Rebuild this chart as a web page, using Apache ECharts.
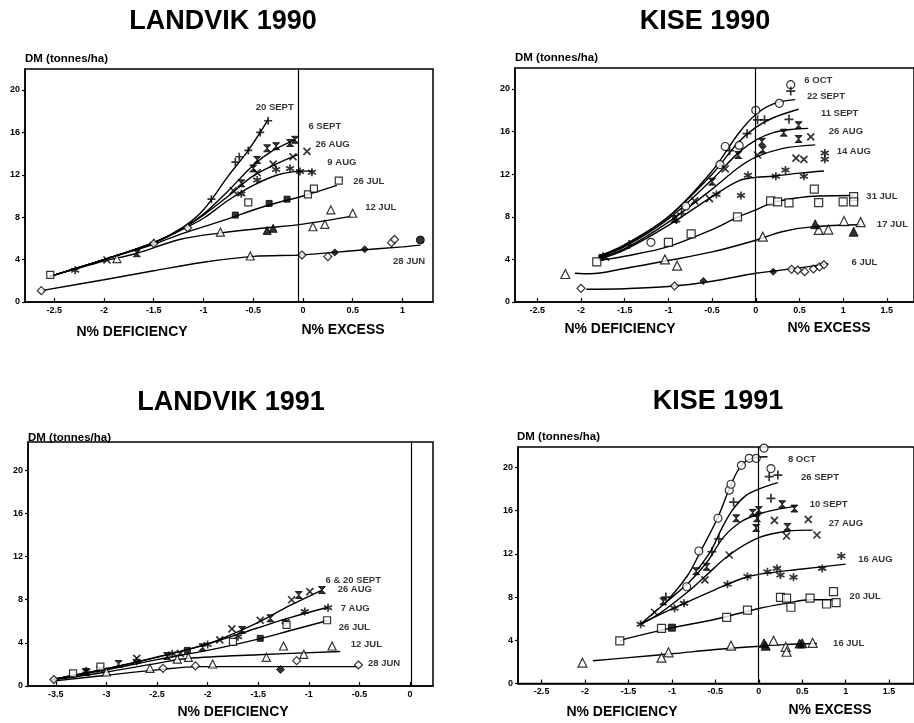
<!DOCTYPE html>
<html>
<head>
<meta charset="utf-8">
<script src="https://cdn.jsdelivr.net/npm/echarts@6.0.0/dist/echarts.min.js"></script>
<style>html,body{margin:0;padding:0;background:#fff}#c{width:914px;height:723px}</style>
</head>
<body>
<div id="c"></div>
<script>
// ---------------- DATA ----------------
const yTicks = [0, 4, 8, 12, 16, 20];
const xTicksL90 = [-2.5, -2, -1.5, -1, -0.5, 0, 0.5, 1];
const xTicksKise = [-2.5, -2, -1.5, -1, -0.5, 0, 0.5, 1, 1.5];
const xTicksL91 = [-3.5, -3, -2.5, -2, -1.5, -1, -0.5, 0];

// LANDVIK 1990
const L90_dates = ['20 SEPT', '6 SEPT', '26 AUG', '9 AUG', '26 JUL', '12 JUL', '28 JUN'];
const L90_sep20_pts = [[-1.5,5.6],[-0.92,9.7],[-0.68,13.2],[-0.64,13.7],[-0.55,14.3],[-0.43,16.0],[-0.35,17.1]];
const L90_sep20_fit = [[-2.55,2.4],[-2.0,4.0],[-1.5,5.6],[-1.2,7.1],[-1.0,8.7],[-0.75,11.9],[-0.55,14.3],[-0.35,17.2]];
const L90_sep6_pts = [[-1.67,4.6],[-0.62,11.2],[-0.5,12.6],[-0.46,13.4],[-0.36,14.5],[-0.27,14.7],[-0.13,15.0],[-0.08,15.3]];
const L90_sep6_fit = [[-2.55,2.4],[-2.0,4.0],[-1.5,5.6],[-1.2,7.0],[-1.0,8.3],[-0.75,10.5],[-0.5,12.9],[-0.3,14.3],[-0.08,15.3]];
const L90_aug26_pts = [[-1.97,3.96],[-0.7,10.5],[-0.46,12.2],[-0.3,13.0],[-0.1,13.7],[0.04,14.2]];
const L90_aug26_fit = [[-2.55,2.4],[-2.0,4.0],[-1.5,5.6],[-1.2,7.0],[-1.0,8.2],[-0.75,10.0],[-0.5,11.9],[-0.25,13.1],[-0.05,13.9]];
const L90_aug9_pts = [[-2.29,3.0],[-0.62,10.2],[-0.46,11.5],[-0.27,12.5],[-0.13,12.6],[-0.03,12.3],[0.09,12.25]];
const L90_aug9_fit = [[-2.55,2.4],[-2.0,4.0],[-1.5,5.6],[-1.2,6.9],[-1.0,7.9],[-0.75,9.6],[-0.5,11.0],[-0.25,12.0],[0.0,12.35],[0.1,12.35]];
const L90_jul26_open = [[-2.54,2.55],[-0.55,9.4],[0.05,10.15],[0.11,10.7],[0.36,11.45]];
const L90_jul26_fill = [[-0.68,8.2],[-0.34,9.3],[-0.16,9.7]];
const L90_jul26_fit = [[-2.55,2.4],[-2.0,4.0],[-1.5,5.45],[-1.2,6.5],[-0.83,7.6],[-0.36,9.1],[0.0,10.0],[0.34,11.0]];
const L90_jul12_open = [[-1.87,4.1],[-0.83,6.6],[-0.53,4.34],[0.1,7.1],[0.22,7.33],[0.28,8.7],[0.5,8.37]];
const L90_jul12_fill = [[-0.36,6.75],[-0.3,6.95]];
const L90_jul12_fit = [[-2.55,2.4],[-2.0,3.85],[-1.67,4.6],[-1.24,5.9],[-0.84,6.5],[-0.36,7.0],[0.0,7.35],[0.5,8.1]];
const L90_jun28_open = [[-2.63,1.07],[-1.5,5.5],[-1.16,7.0],[-0.01,4.43],[0.25,4.28],[0.89,5.6],[0.92,5.9]];
const L90_jun28_fill = [[0.32,4.68],[0.62,4.97]];
const L90_jun28_dot = [[1.18,5.85]];
const L90_jun28_fit = [[-2.63,1.07],[-2.0,2.1],[-1.5,2.95],[-1.0,3.75],[-0.5,4.3],[0.0,4.45],[0.5,4.84],[1.0,5.2],[1.18,5.37]];

// KISE 1990
const K90_dates = ['6 OCT', '22 SEPT', '11 SEPT', '26 AUG', '14 AUG', '31 JUL', '17 JUL', '6 JUL'];
const K90_oct6_pts = [[-1.2,5.6],[-0.8,9.0],[-0.41,12.9],[-0.35,14.6],[-0.19,14.7],[0.0,18.0],[0.27,18.65],[0.4,20.4]];
const K90_oct6_fit = [[-1.8,4.3],[-1.5,5.4],[-1.0,8.0],[-0.5,12.3],[-0.2,15.8],[0.0,17.6],[0.2,18.6],[0.45,19.0]];
const K90_sep22_pts = [[-1.45,5.4],[-0.85,8.3],[-0.3,14.2],[-0.1,15.8],[0.02,17.1],[0.1,17.1],[0.38,17.15],[0.4,19.8]];
const K90_sep22_fit = [[-1.8,4.3],[-1.5,5.3],[-1.0,8.0],[-0.5,12.0],[-0.2,15.0],[0.0,16.4],[0.2,17.3],[0.49,18.1]];
const K90_sep11_pts = [[-0.93,7.8],[-0.5,11.3],[-0.2,13.8],[0.07,15.05],[0.08,14.3],[0.32,15.9],[0.49,16.6],[0.49,15.3]];
const K90_sep11_fit = [[-1.8,4.2],[-1.5,5.2],[-1.0,7.8],[-0.5,11.5],[-0.2,14.0],[0.0,15.2],[0.2,15.9],[0.4,16.2],[0.6,16.3]];
const K90_aug26_pts = [[-1.72,4.2],[-0.7,9.5],[-0.53,9.7],[-0.35,12.5],[0.02,13.8],[0.46,13.5],[0.55,13.4],[0.63,15.5]];
const K90_aug26_fit = [[-1.8,4.1],[-1.5,5.0],[-1.0,7.5],[-0.5,10.6],[-0.2,12.6],[0.0,13.6],[0.3,14.4],[0.68,14.75]];
const K90_aug14_pts = [[-1.75,4.3],[-0.91,7.7],[-0.45,10.1],[-0.17,10.0],[-0.09,11.9],[0.23,11.8],[0.34,12.4],[0.55,11.8],[0.79,13.4],[0.79,14.0]];
const K90_aug14_fit = [[-1.8,4.0],[-1.5,4.9],[-1.0,7.2],[-0.5,9.9],[-0.19,11.4],[0.0,11.7],[0.19,11.8],[0.5,12.1],[0.78,12.3]];
const K90_jul31_pts = [[-1.82,3.76],[-1.0,5.6],[-0.74,6.4],[-0.21,8.0],[0.17,9.5],[0.25,9.4],[0.38,9.3],[0.67,10.6],[0.72,9.33],[1.0,9.4],[1.12,9.9],[1.12,9.4]];
const K90_jul31_fit = [[-1.8,3.9],[-1.5,4.3],[-1.0,5.2],[-0.5,6.8],[-0.2,8.0],[0.0,8.64],[0.2,9.35],[0.5,9.8],[0.72,9.95],[1.12,10.0]];
const K90_jul17_open = [[-2.18,2.63],[-1.04,4.0],[-0.9,3.41],[0.08,6.13],[0.72,6.77],[0.83,6.8],[1.01,7.6],[1.2,7.5]];
const K90_jul17_fill = [[0.68,7.3],[1.12,6.6]];
const K90_jul17_fit = [[-2.07,2.7],[-1.9,2.65],[-1.5,3.15],[-1.0,3.9],[-0.5,4.7],[0.0,5.8],[0.3,6.6],[0.64,7.05],[1.2,7.25]];
const K90_jul6_open = [[-2.0,1.28],[-0.93,1.5],[0.41,3.07],[0.48,3.0],[0.56,2.85],[0.66,3.1],[0.73,3.3],[0.78,3.5]];
const K90_jul6_fill = [[-0.6,1.97],[0.2,2.85]];
const K90_jul6_fit = [[-1.94,1.2],[-1.5,1.25],[-1.0,1.45],[-0.5,1.95],[0.0,2.7],[0.5,3.2],[0.83,3.6]];

// LANDVIK 1991
const L91_dates = ['6 & 20 SEPT', '26 AUG', '7 AUG', '26 JUL', '12 JUL', '28 JUN'];
const L91_sep_pts = [[-0.87,8.9],[-1.1,8.44],[-1.38,6.28],[-1.66,5.2],[-2.05,3.59],[-2.4,2.78],[-2.88,2.04],[-3.2,1.3]];
const L91_aug26_pts = [[-0.99,8.75],[-1.17,8.0],[-1.48,6.1],[-1.76,5.3],[-1.88,4.27],[-2.27,3.03],[-2.7,2.57],[-3.06,1.55]];
const L91_top_fit = [[-3.54,0.6],[-3.0,1.6],[-2.5,2.7],[-2.0,3.9],[-1.5,5.9],[-1.2,7.4],[-0.87,8.9]];
const L91_aug7_pts = [[-3.2,1.4],[-2.7,2.3],[-2.35,3.0],[-2.0,3.85],[-1.7,4.57],[-1.23,5.97],[-1.04,6.9],[-0.81,7.25]];
const L91_aug7_fit = [[-3.54,0.6],[-3.0,1.6],[-2.5,2.65],[-2.0,3.9],[-1.5,5.4],[-1.2,6.3],[-0.81,7.3]];
const L91_jul26_open = [[-3.33,1.18],[-3.06,1.8],[-1.75,4.1],[-1.22,5.66],[-0.82,6.1]];
const L91_jul26_fill = [[-2.2,3.3],[-1.48,4.42]];
const L91_jul26_fit = [[-3.54,0.6],[-3.0,1.5],[-2.5,2.45],[-2.0,3.3],[-1.5,4.35],[-1.2,5.1],[-0.82,6.05]];
const L91_jul12_pts = [[-3.0,1.3],[-2.57,1.64],[-2.3,2.5],[-2.19,2.66],[-1.95,2.04],[-1.42,2.66],[-1.25,3.71],[-1.05,2.94],[-0.77,3.71]];
const L91_jul12_fit = [[-3.53,0.55],[-3.0,1.3],[-2.5,2.1],[-2.2,2.55],[-1.5,2.9],[-0.69,3.2]];
const L91_jun28_open = [[-3.52,0.6],[-2.44,1.64],[-2.12,1.86],[-1.12,2.35],[-0.51,1.95]];
const L91_jun28_fill = [[-1.28,1.54]];
const L91_jun28_fit = [[-3.53,0.45],[-3.0,1.0],[-2.5,1.5],[-2.08,1.8],[-1.5,1.8],[-0.51,1.8]];

// KISE 1991
const K91_dates = ['8 OCT', '26 SEPT', '10 SEPT', '27 AUG', '16 AUG', '20 JUL', '16 JUL'];
const K91_oct8_pts = [[-0.83,8.96],[-0.69,12.27],[-0.47,15.3],[-0.34,17.9],[-0.32,18.45],[-0.2,20.2],[-0.11,20.85],[-0.03,20.85],[0.06,21.8],[0.14,19.9]];
const K91_oct8_fit = [[-1.05,7.7],[-0.82,10.0],[-0.66,12.4],[-0.47,15.4],[-0.32,18.4],[-0.2,20.2],[-0.05,20.9],[0.1,21.0]];
const K91_sep26_pts = [[-1.07,8.0],[-0.54,12.2],[-0.46,13.4],[-0.29,16.8],[0.12,19.15],[0.22,19.3],[0.14,17.15]];
const K91_sep26_fit = [[-0.7,10.6],[-0.55,12.3],[-0.43,14.3],[-0.3,16.1],[-0.15,17.4],[0.0,18.0],[0.22,18.6]];
const K91_sep10_pts = [[-1.1,7.6],[-0.72,10.4],[-0.6,10.8],[-0.26,15.3],[-0.07,15.8],[-0.02,15.3],[0.0,16.06],[-0.03,14.4],[0.27,16.6],[0.33,14.5],[0.41,16.2]];
const K91_sep10_fit = [[-1.36,5.5],[-1.1,7.3],[-0.8,9.4],[-0.6,11.2],[-0.4,13.6],[-0.2,15.0],[0.0,15.7],[0.2,16.1],[0.41,16.4]];
const K91_aug27_pts = [[-1.2,6.6],[-0.62,9.6],[-0.34,11.9],[0.18,15.1],[0.32,13.66],[0.57,15.2],[0.67,13.75]];
const K91_aug27_fit = [[-1.36,5.5],[-1.14,6.5],[-0.8,8.6],[-0.62,9.9],[-0.34,11.9],[0.0,13.5],[0.33,14.1],[0.62,14.2]];
const K91_aug16_pts = [[-1.36,5.48],[-0.97,6.96],[-0.86,7.42],[-0.36,9.2],[-0.13,9.9],[0.1,10.35],[0.21,10.66],[0.25,10.05],[0.4,9.83],[0.73,10.66],[0.95,11.8]];
const K91_aug16_fit = [[-1.36,5.5],[-1.0,6.9],[-0.5,8.7],[-0.2,9.7],[0.0,10.1],[0.5,10.6],[1.0,11.05]];
const K91_jul20_open = [[-1.6,3.94],[-1.12,5.1],[-0.37,6.13],[-0.13,6.8],[0.25,7.98],[0.32,7.9],[0.37,7.06],[0.59,7.9],[0.78,7.36],[0.86,8.5],[0.89,7.48]];
const K91_jul20_fill = [[-1.0,5.17]];
const K91_jul20_fit = [[-1.6,3.94],[-1.5,4.2],[-1.0,5.15],[-0.5,5.95],[0.0,6.95],[0.3,7.4],[0.6,7.75],[0.87,7.75]];
const K91_jul16_open = [[-2.03,1.93],[-1.12,2.39],[-1.04,2.89],[-0.32,3.5],[0.17,3.96],[0.31,3.4],[0.32,2.94],[0.62,3.77]];
const K91_jul16_fill = [[0.06,3.72],[0.08,3.5],[0.47,3.7],[0.5,3.72]];
const K91_jul16_fit = [[-1.91,2.1],[-1.5,2.4],[-1.0,2.75],[-0.5,3.15],[0.0,3.45],[0.3,3.6],[0.67,3.7]];

// ---------------- LAYOUT (positions / styles) ----------------
const FONT = '"Liberation Sans", Arial, sans-serif';
const LAYOUT = {
  grids: [
    { left: 25, top: 69, width: 408, height: 233, xmin: -2.794, xmax: 1.307, ymax: 21.98, zero: -0.05, ticks: xTicksL90 },
    { left: 515, top: 68, width: 401, height: 234, xmin: -2.756, xmax: 1.811, ymax: 21.97, zero: -0.01, ticks: xTicksKise },
    { left: 28, top: 442, width: 405, height: 244, xmin: -3.775, xmax: 0.227, ymax: 22.63, zero: 0.01, ticks: xTicksL91 },
    { left: 518, top: 447, width: 398, height: 236.5, xmin: -2.772, xmax: 1.787, ymax: 21.9, zero: -0.01, ticks: xTicksKise }
  ],
  labelAnchors: [
    [[-0.48,18.4],[0.05,16.6],[0.12,14.9],[0.24,13.2],[0.5,11.4],[0.62,8.9],[0.9,3.8]],
    [[0.55,20.85],[0.58,19.35],[0.74,17.75],[0.83,16.0],[0.92,14.1],[1.26,9.9],[1.38,7.3],[1.09,3.76]],
    [[-0.84,9.83],[-0.72,9.0],[-0.69,7.24],[-0.71,5.47],[-0.59,3.9],[-0.42,2.13]],
    [[0.33,20.8],[0.48,19.1],[0.58,16.6],[0.8,14.8],[1.14,11.5],[1.04,8.1],[0.85,3.75]]
  ]
};

const SYM = {
  plus: 'path://M5,0V10M0,5H10',
  cross: 'path://M0,0L10,10M0,10L10,0',
  star: 'path://M5,0V10M0.7,2.5L9.3,7.5M0.7,7.5L9.3,2.5',
  hour: 'path://M0,0H10L0,10H10Z'
};
const OPEN = { color: '#fff', borderColor: '#000', borderWidth: 1.2 };
const FILL = { color: '#000', borderColor: '#000', borderWidth: 1 };
const STROKE = { color: '#000', borderColor: '#000', borderWidth: 1.7 };

function fitS(g, data, extra) {
  return Object.assign({ type: 'line', xAxisIndex: g, yAxisIndex: g, data, smooth: 0.35, symbol: 'none',
    lineStyle: { color: '#000', width: 1.4 }, z: 2, silent: true, animation: false }, extra || {});
}
function ptS(g, data, symbol, style, size) {
  return { type: 'scatter', xAxisIndex: g, yAxisIndex: g, data, symbol, symbolSize: size || 7,
    itemStyle: style, z: 3, clip: false, silent: true, animation: false };
}
function zeroLine(g) {
  return { type: 'line', xAxisIndex: g, yAxisIndex: g, data: [], symbol: 'none', silent: true,
    markLine: { silent: true, symbol: 'none', label: { show: false }, animation: false,
      lineStyle: { color: '#000', width: 1.2, type: 'solid' }, data: [{ xAxis: LAYOUT.grids[g].zero }] } };
}
function labelS(g, names) {
  return { type: 'scatter', xAxisIndex: g, yAxisIndex: g, symbol: 'circle', symbolSize: 1,
    itemStyle: { color: 'rgba(0,0,0,0)' }, clip: false, silent: true, z: 6, animation: false,
    data: names.map((n, i) => ({ name: n, value: LAYOUT.labelAnchors[g][i] })),
    label: { show: true, position: 'right', distance: 0, formatter: (p) => p.name, color: '#000',
      fontSize: 9.5, fontWeight: 'bold', fontFamily: FONT },
    labelLayout: { hideOverlap: false } };
}

const series = [
  // Panel 0: Landvik 1990
  zeroLine(0),
  fitS(0, L90_sep20_fit), fitS(0, L90_sep6_fit), fitS(0, L90_aug26_fit), fitS(0, L90_aug9_fit),
  fitS(0, L90_jul26_fit), fitS(0, L90_jul12_fit), fitS(0, L90_jun28_fit),
  ptS(0, L90_sep20_pts, SYM.plus, STROKE, 8), ptS(0, L90_sep6_pts, SYM.hour, FILL, 7),
  ptS(0, L90_aug26_pts, SYM.cross, STROKE, 7), ptS(0, L90_aug9_pts, SYM.star, STROKE, 8),
  ptS(0, L90_jul26_open, 'rect', OPEN, 7), ptS(0, L90_jul26_fill, 'rect', FILL, 6),
  ptS(0, L90_jul12_open, 'triangle', OPEN, 8), ptS(0, L90_jul12_fill, 'triangle', FILL, 8),
  ptS(0, L90_jun28_open, 'diamond', OPEN, 8), ptS(0, L90_jun28_fill, 'diamond', FILL, 7),
  ptS(0, L90_jun28_dot, 'circle', FILL, 8),
  labelS(0, L90_dates),

  // Panel 1: Kise 1990
  zeroLine(1),
  fitS(1, K90_oct6_fit), fitS(1, K90_sep22_fit), fitS(1, K90_sep11_fit), fitS(1, K90_aug26_fit),
  fitS(1, K90_aug14_fit), fitS(1, K90_jul31_fit), fitS(1, K90_jul17_fit), fitS(1, K90_jul6_fit),
  ptS(1, K90_oct6_pts, 'circle', OPEN, 8), ptS(1, K90_sep22_pts, SYM.plus, STROKE, 9),
  ptS(1, K90_sep11_pts, SYM.hour, FILL, 7), ptS(1, K90_aug26_pts, SYM.cross, STROKE, 7),
  ptS(1, K90_aug14_pts, SYM.star, STROKE, 8),
  ptS(1, K90_jul31_pts, 'rect', OPEN, 8),
  ptS(1, K90_jul17_open, 'triangle', OPEN, 9), ptS(1, K90_jul17_fill, 'triangle', FILL, 9),
  ptS(1, K90_jul6_open, 'diamond', OPEN, 8), ptS(1, K90_jul6_fill, 'diamond', FILL, 7),
  labelS(1, K90_dates),

  // Panel 2: Landvik 1991
  zeroLine(2),
  fitS(2, L91_top_fit), fitS(2, L91_aug7_fit), fitS(2, L91_jul26_fit), fitS(2, L91_jul12_fit), fitS(2, L91_jun28_fit),
  ptS(2, L91_sep_pts, SYM.hour, FILL, 7), ptS(2, L91_aug26_pts, SYM.cross, STROKE, 7),
  ptS(2, L91_aug7_pts, SYM.star, STROKE, 8),
  ptS(2, L91_jul26_open, 'rect', OPEN, 7), ptS(2, L91_jul26_fill, 'rect', FILL, 6),
  ptS(2, L91_jul12_pts, 'triangle', OPEN, 8),
  ptS(2, L91_jun28_open, 'diamond', OPEN, 8), ptS(2, L91_jun28_fill, 'diamond', FILL, 8),
  labelS(2, L91_dates),

  // Panel 3: Kise 1991
  zeroLine(3),
  fitS(3, K91_oct8_fit), fitS(3, K91_sep26_fit), fitS(3, K91_sep10_fit), fitS(3, K91_aug27_fit),
  fitS(3, K91_aug16_fit), fitS(3, K91_jul20_fit), fitS(3, K91_jul16_fit),
  ptS(3, K91_oct8_pts, 'circle', OPEN, 8), ptS(3, K91_sep26_pts, SYM.plus, STROKE, 9),
  ptS(3, K91_sep10_pts, SYM.hour, FILL, 7), ptS(3, K91_aug27_pts, SYM.cross, STROKE, 7),
  ptS(3, K91_aug16_pts, SYM.star, STROKE, 8),
  ptS(3, K91_jul20_open, 'rect', OPEN, 8), ptS(3, K91_jul20_fill, 'rect', FILL, 7),
  ptS(3, K91_jul16_open, 'triangle', OPEN, 9), ptS(3, K91_jul16_fill, 'triangle', FILL, 9),
  labelS(3, K91_dates)
];

const grid = LAYOUT.grids.map(g => ({ left: g.left, top: g.top, width: g.width, height: g.height,
  show: true, borderColor: '#000', borderWidth: 1.5, backgroundColor: 'transparent', containLabel: false }));

const xAxis = LAYOUT.grids.map((g, i) => ({
  type: 'value', gridIndex: i, min: g.xmin, max: g.xmax,
  axisLine: { onZero: false, lineStyle: { color: '#000', width: 1.5 } },
  axisTick: { inside: true, length: 4, customValues: g.ticks, lineStyle: { color: '#000', width: 1.2 } },
  axisLabel: { customValues: g.ticks, color: '#000', fontSize: 9, fontWeight: 'bold', fontFamily: FONT, margin: 4 },
  splitLine: { show: false }
}));
const yAxis = LAYOUT.grids.map((g, i) => ({
  type: 'value', gridIndex: i, min: 0, max: g.ymax,
  axisLine: { onZero: false, lineStyle: { color: '#000', width: 1.5 } },
  axisTick: { inside: false, length: 3, customValues: yTicks, lineStyle: { color: '#000', width: 1.2 } },
  axisLabel: { customValues: yTicks, color: '#000', fontSize: 9, fontWeight: 'bold', fontFamily: FONT, margin: 5 },
  splitLine: { show: false }
}));

function txt(x, y, text, size, weight, align) {
  return { type: 'text', x, y, silent: true, z: 10,
    style: { text, fill: '#000', fontSize: size, fontWeight: weight, fontFamily: FONT, align: align || 'center', verticalAlign: 'middle' } };
}
const graphic = [
  txt(223, 22, 'LANDVIK 1990', 27, 'bold'),
  txt(705, 22, 'KISE 1990', 27, 'bold'),
  txt(231, 403, 'LANDVIK 1991', 27, 'bold'),
  txt(718, 402, 'KISE 1991', 27, 'bold'),
  txt(25, 59, 'DM (tonnes/ha)', 11.5, 'bold', 'left'),
  txt(515, 58, 'DM (tonnes/ha)', 11.5, 'bold', 'left'),
  txt(28, 438, 'DM (tonnes/ha)', 11.5, 'bold', 'left'),
  txt(517, 437, 'DM (tonnes/ha)', 11.5, 'bold', 'left'),
  txt(132, 332, 'N% DEFICIENCY', 14, 'bold'),
  txt(343, 330, 'N% EXCESS', 14, 'bold'),
  txt(620, 329, 'N% DEFICIENCY', 14, 'bold'),
  txt(829, 328, 'N% EXCESS', 14, 'bold'),
  txt(233, 712, 'N% DEFICIENCY', 14, 'bold'),
  txt(622, 712, 'N% DEFICIENCY', 14, 'bold'),
  txt(830, 710, 'N% EXCESS', 14, 'bold')
];

const chart = echarts.init(document.getElementById('c'), null, { renderer: 'canvas' });
chart.setOption({ animation: false, backgroundColor: '#fff', grid, xAxis, yAxis, series, graphic });
</script>
</body>
</html>
